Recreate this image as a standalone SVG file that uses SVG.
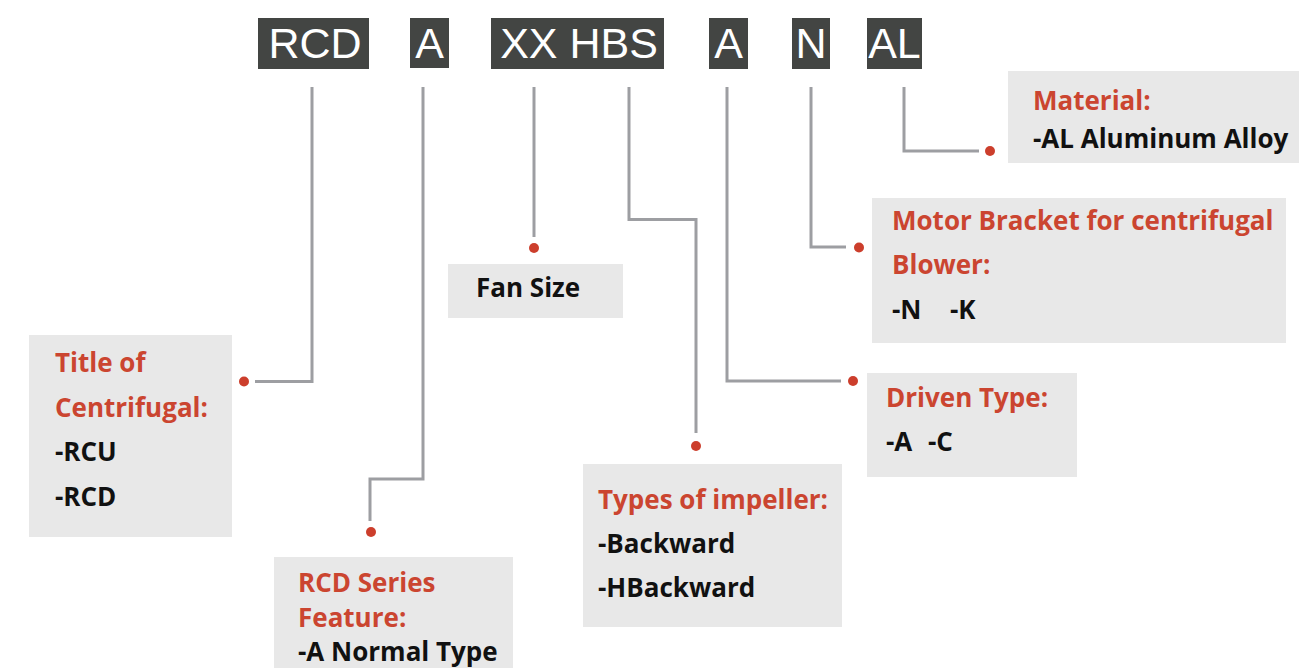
<svg xmlns="http://www.w3.org/2000/svg" width="1313" height="668" viewBox="0 0 1313 668">
<style>
.code{fill:#434543}
.codet{fill:#fff;font-family:"Liberation Sans",Arial,sans-serif;font-size:43px;text-anchor:middle}
.box{fill:#e8e8e8}
.h{fill:#cb4530;font-family:"Open Sans",sans-serif;font-weight:bold;font-size:26px}
.b{fill:#111;font-family:"Open Sans",sans-serif;font-weight:bold;font-size:26px}
.ln{fill:none;stroke:#9d9ea2;stroke-width:3}
.dot{fill:#cc3e2c}
</style>
<rect width="1313" height="668" fill="#fff"/>
<g id="code">
<g id="c-rcd"><rect class="code" x="258" y="18" width="111" height="51"/><text class="codet" x="315" y="58">RCD</text></g>
<g id="c-a1"><rect class="code" x="410" y="18" width="39" height="50"/><text class="codet" x="429.5" y="58">A</text></g>
<g id="c-xx"><rect class="code" x="491" y="18" width="173" height="51"/><text class="codet" x="579" y="58">XX HBS</text></g>
<g id="c-a2"><rect class="code" x="709" y="18" width="39" height="51"/><text class="codet" x="728.5" y="58">A</text></g>
<g id="c-n"><rect class="code" x="792" y="18" width="38" height="51"/><text class="codet" x="811" y="58">N</text></g>
<g id="c-al"><rect class="code" x="867" y="18" width="55" height="51"/><text class="codet" x="894.5" y="58">AL</text></g>
</g>
<g id="connectors">
<polyline class="ln" points="312,87 312,381.5 255,381.5"/>
<polyline class="ln" points="423,87 423,479 370,479 370,521"/>
<polyline class="ln" points="534,87 534,237"/>
<polyline class="ln" points="629,87 629,219.5 696,219.5 696,433"/>
<polyline class="ln" points="727,87 727,381 841,381"/>
<polyline class="ln" points="811,87 811,247 846,247"/>
<polyline class="ln" points="904,87 904,151 979,151"/>
<circle class="dot" cx="244" cy="381.5" r="5"/>
<circle class="dot" cx="371" cy="532" r="5"/>
<circle class="dot" cx="534" cy="248" r="5"/>
<circle class="dot" cx="696" cy="446" r="5"/>
<circle class="dot" cx="853" cy="381" r="5"/>
<circle class="dot" cx="859" cy="247.5" r="5"/>
<circle class="dot" cx="990" cy="151" r="5"/>
</g>
<g id="n-title"><rect class="box" x="29" y="335" width="203" height="202"/>
<text class="h" x="55" y="372">Title of</text><text class="h" x="55" y="417">Centrifugal:</text>
<text class="b" x="55" y="461">-RCU</text><text class="b" x="55" y="506">-RCD</text></g>
<g id="n-series"><rect class="box" x="274" y="557" width="239" height="111"/>
<text class="h" x="298" y="592">RCD Series</text><text class="h" x="298" y="627">Feature:</text>
<text class="b" x="298" y="661">-A Normal Type</text></g>
<g id="n-fan"><rect class="box" x="448" y="264" width="175" height="54"/>
<text class="b" x="476" y="297">Fan Size</text></g>
<g id="n-impeller"><rect class="box" x="583" y="464" width="259" height="163"/>
<text class="h" x="598" y="509">Types of impeller:</text>
<text class="b" x="598" y="553">-Backward</text><text class="b" x="598" y="597">-HBackward</text></g>
<g id="n-driven"><rect class="box" x="867" y="373" width="210" height="104"/>
<text class="h" x="886" y="407">Driven Type:</text>
<text class="b" x="886" y="451">-A</text><text class="b" x="928" y="451">-C</text></g>
<g id="n-motor"><rect class="box" x="872" y="198" width="414" height="145"/>
<text class="h" x="892" y="230">Motor Bracket for centrifugal</text>
<text class="h" x="892" y="274">Blower:</text>
<text class="b" x="892" y="319">-N</text><text class="b" x="950" y="319">-K</text></g>
<g id="n-material"><rect class="box" x="1008" y="71" width="291" height="92"/>
<text class="h" x="1033" y="110">Material:</text>
<text class="b" x="1033" y="148">-AL Aluminum Alloy</text></g>
</svg>
